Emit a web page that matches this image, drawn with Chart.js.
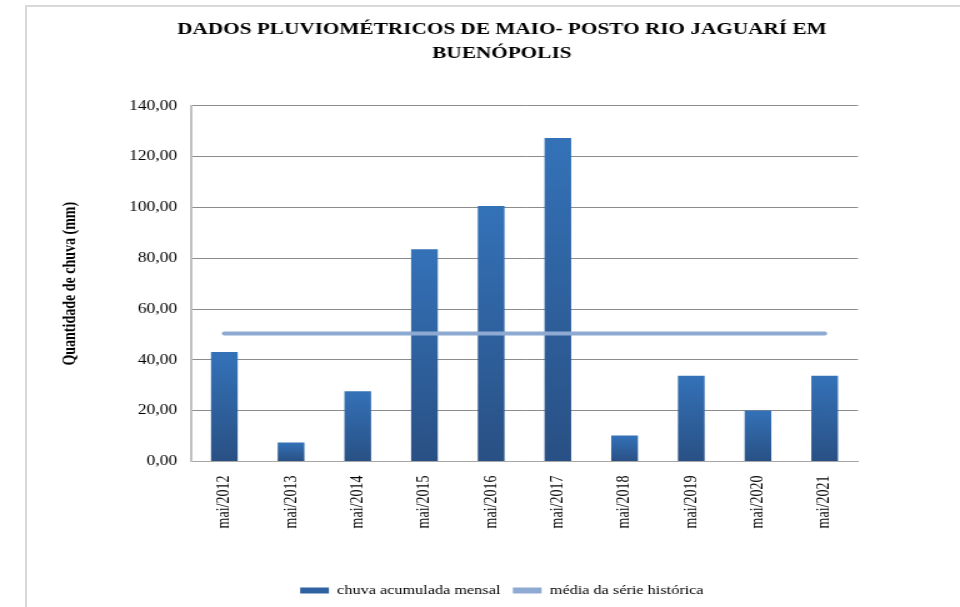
<!DOCTYPE html>
<html>
<head>
<meta charset="utf-8">
<script src="https://cdn.jsdelivr.net/npm/chart.js@4/dist/chart.umd.min.js"></script>
<style>
  html, body { margin: 0; padding: 0; background: #fff; overflow: hidden; width: 960px; height: 607px; }
  .frame { position: absolute; left: 25px; top: 5px; width: 960px; height: 620px;
           border-left: 2px solid #d9d9d9; border-top: 2px solid #d9d9d9; }
  #grafico { position: absolute; left: 0; top: 0; }
</style>
</head>
<body>
<div class="frame"></div>
<canvas id="grafico" width="784" height="607" style="width:980px;height:607px"></canvas>
<script>
// dados de maio - posto Rio Jaguari em Buenópolis
const meses = ['mai/2012', 'mai/2013', 'mai/2014', 'mai/2015', 'mai/2016',
               'mai/2017', 'mai/2018', 'mai/2019', 'mai/2020', 'mai/2021'];
const chuvaMensal = [43.1, 7.5, 27.7, 83.6, 100.6, 127.4, 10.2, 33.8, 20.1, 33.8];
const mediaHistorica = [50.4, 50.4, 50.4, 50.4, 50.4, 50.4, 50.4, 50.4, 50.4, 50.4];
const yTicks = [0, 20, 40, 60, 80, 100, 120, 140];

const serif = 'Liberation Serif';
const corBarraLegenda = '#2f62a0';
const corMedia = '#8eaad2';

// degradê de cada barra (claro em cima, escuro embaixo)
function corBarra(context) {
    const chart = context.chart;
    const yScale = chart.scales.y;
    if (!yScale || !context.parsed) return corBarraLegenda;
    const top = yScale.getPixelForValue(context.parsed.y);
    const bottom = yScale.getPixelForValue(0);
    if (!isFinite(top) || !isFinite(bottom) || top === bottom) return corBarraLegenda;
    const g = chart.ctx.createLinearGradient(0, top, 0, bottom);
    g.addColorStop(0, '#3472b8');
    g.addColorStop(1, '#295084');
    return g;
}

const ctx = document.getElementById('grafico').getContext('2d');
new Chart(ctx, {
    data: {
        labels: meses,
        datasets: [
            {
                type: 'bar',
                label: 'chuva acumulada mensal',
                data: chuvaMensal,
                backgroundColor: corBarra,
                borderWidth: 0,
                barPercentage: 0.4,
                categoryPercentage: 1,
                order: 2
            },
            {
                type: 'line',
                label: 'média da série histórica',
                data: mediaHistorica,
                borderColor: corMedia,
                backgroundColor: corMedia,
                borderWidth: 4,
                borderCapStyle: 'round',
                pointRadius: 0,
                fill: false,
                order: 1
            }
        ]
    },
    options: {
        responsive: false,
        animation: false,
        devicePixelRatio: 1,
        layout: { padding: { left: 19, right: 0, top: 0, bottom: 0 } },
        plugins: {
            title: {
                display: true,
                text: ['DADOS PLUVIOMÉTRICOS DE MAIO- POSTO RIO JAGUARÍ EM', 'BUENÓPOLIS'],
                color: '#000',
                font: { family: serif, size: 17, weight: 'bold', lineHeight: 1.41 },
                padding: { top: 17.5, bottom: 40.5 }
            },
            legend: {
                position: 'bottom',
                labels: {
                    color: '#000',
                    font: { family: serif, size: 13 },
                    boxWidth: 23,
                    boxHeight: 6,
                    padding: 10,
                    sort: (a, b) => a.datasetIndex - b.datasetIndex,
                    generateLabels: function(chart) {
                        const items = Chart.defaults.plugins.legend.labels.generateLabels(chart);
                        items.forEach(it => {
                            const c = it.datasetIndex === 0 ? corBarraLegenda : corMedia;
                            it.fillStyle = c;
                            it.strokeStyle = c;
                            it.lineWidth = 0;
                        });
                        return items;
                    }
                }
            },
            tooltip: { enabled: false }
        },
        scales: {
            x: {
                grid: { display: false },
                border: { color: '#a6a6a6', width: 1 },
                ticks: {
                    color: '#000',
                    font: { family: serif, size: 14 },
                    minRotation: 90,
                    maxRotation: 90,
                    padding: 6
                },
                afterFit: function(scale) { scale.height = 112.5; }
            },
            y: {
                min: 0,
                max: 140,
                afterBuildTicks: function(scale) {
                    scale.ticks = yTicks.map(v => ({ value: v }));
                },
                grid: { color: '#8c8c8c', lineWidth: 1, drawTicks: false },
                border: { color: '#c0c0c0', width: 2 },
                ticks: {
                    color: '#000',
                    font: { family: serif, size: 14 },
                    padding: 11,
                    callback: v => v.toFixed(2).replace('.', ',')
                },
                title: {
                    display: true,
                    text: 'Quantidade de chuva (mm)',
                    color: '#000',
                    font: { family: serif, size: 14, weight: 'bold' },
                    padding: { top: 28.5, bottom: 0 }
                },
                afterFit: function(scale) { scale.width = 133.8; }
            },
            // eixo vazio só para reservar espaço à direita
            yDir: {
                position: 'right',
                display: true,
                grid: { display: false },
                border: { display: false },
                ticks: { display: false },
                afterFit: function(scale) { scale.width = 97.6; }
            }
        }
    }
});
</script>
</body>
</html>
